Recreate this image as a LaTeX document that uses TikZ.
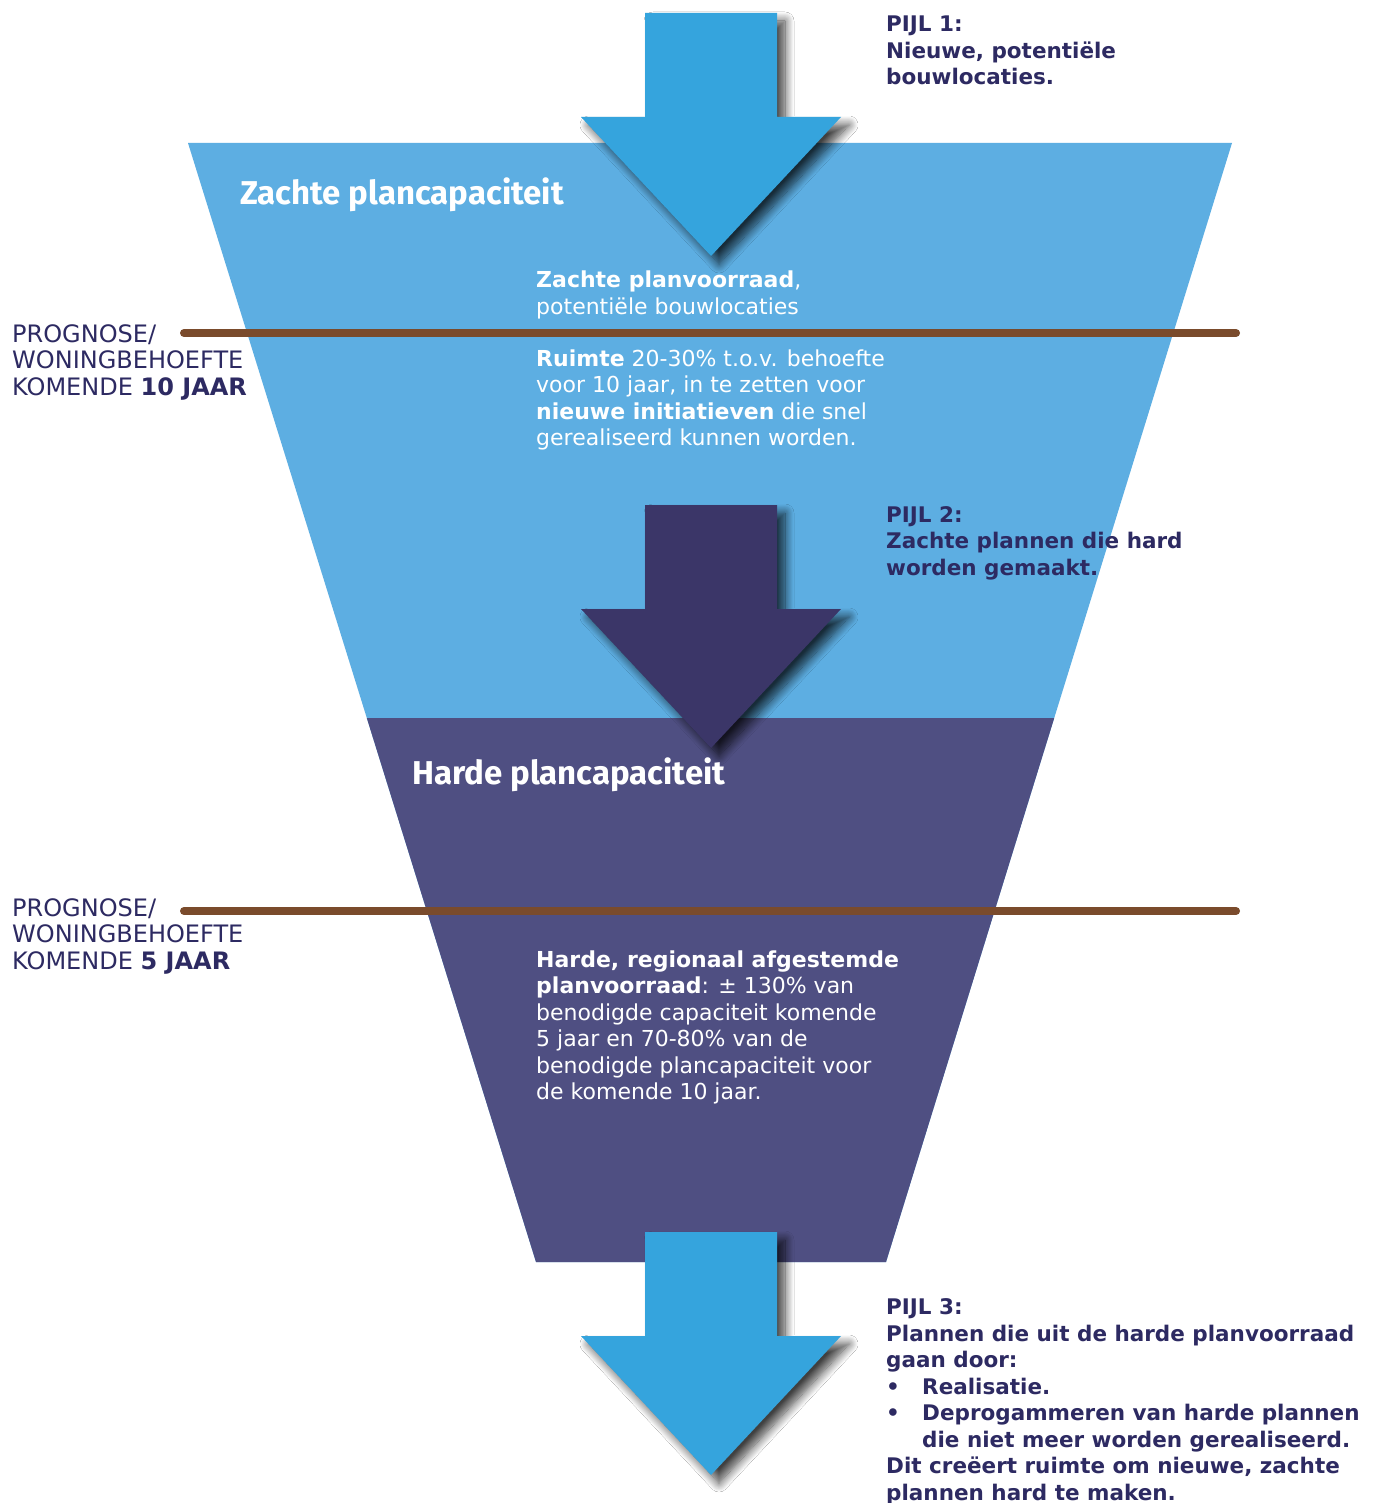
\documentclass[tikz,border=0pt]{standalone}
\usepackage{fontspec}
\setmainfont{DejaVu Sans}
\newfontfamily\kopfont{Fira Sans}
\usetikzlibrary{shadows.blur}

\definecolor{lichtblauw}{RGB}{93,174,226}
\definecolor{paars}{RGB}{79,79,130}
\definecolor{pijlblauw}{RGB}{53,164,221}
\definecolor{pijlpaars}{RGB}{59,54,104}
\definecolor{bruin}{RGB}{122,75,44}
\definecolor{donkerblauw}{RGB}{45,42,98}

\tikzset{
  pics/pijl/.style={code={
    \fill[#1, blur shadow={shadow xshift=8pt, shadow yshift=-8pt, shadow blur radius=9pt, shadow blur steps=12, shadow opacity=75}]
      (-66,0) -- (66,0) -- (66,104) -- (130,104) -- (0,243) -- (-130,104) -- (-66,104) -- cycle;
  }},
  kop/.style={font=\kopfont\bfseries\fontsize{33}{38}\selectfont, text=white, anchor=base west, inner sep=0pt},
  tekst/.style={font=\fontsize{22}{26.5}\selectfont, text=white, align=left, anchor=base west, inner sep=0pt},
  uitleg/.style={font=\bfseries\fontsize{21.5}{26.5}\selectfont, text=donkerblauw, align=left, anchor=base west, inner sep=0pt},
  prognose/.style={font=\fontsize{24}{26.5}\selectfont, text=donkerblauw, align=left, anchor=base west, inner sep=0pt},
  grens/.style={bruin, line width=8pt, line cap=round},
}

\begin{document}
\begin{tikzpicture}[x=1pt, y=-1pt]
    \fill[white] (0,0) rectangle (1376,1503);
    \useasboundingbox (0,0) rectangle (1376,1503);

    % trechter
    \coordinate (linksboven) at (188,143);
    \coordinate (rechtsboven) at (1232,143);
    \coordinate (rechtsonder) at (886,1262);
    \coordinate (linksonder) at (536,1262);
    \fill[lichtblauw] (linksboven) -- (rechtsboven) -- (rechtsonder) -- (linksonder) -- cycle;
    \begin{scope}
        \clip (linksboven) -- (rechtsboven) -- (rechtsonder) -- (linksonder) -- cycle;
        \fill[paars] (0,718) rectangle (1376,1503);
    \end{scope}

    % prognoselijnen
    \coordinate (tien links) at (184,333);
    \coordinate (tien rechts) at (1236,333);
    \coordinate (vijf links) at (184,911);
    \coordinate (vijf rechts) at (1236,911);
    \draw[grens] (tien links) -- (tien rechts);
    \draw[grens] (vijf links) -- (vijf rechts);

    % pijlen
    \pic (pijl1) at (711,13) {pijl=pijlblauw};
    \pic (pijl2) at (711,505) {pijl=pijlpaars};
    \pic (pijl3) at (711,1232) {pijl=pijlblauw};

    % teksten (base = laatste regel)
    \node[kop] (zacht) at (240,205) {Zachte plancapaciteit};
    \node[kop] (hard) at (412,784) {Harde plancapaciteit};

    \node[tekst] (zachtvoorraad) at (536,314.5) {\textbf{Zachte planvoorraad},\\potentiële bouwlocaties};
    \node[tekst] (ruimte) at (536,445.5) {\textbf{Ruimte} 20-30\% t.o.v. behoefte\\voor 10 jaar, in te zetten voor\\\textbf{nieuwe initiatieven} die snel\\gerealiseerd kunnen worden.};
    \node[tekst] (hardvoorraad) at (536,1099.5) {\textbf{Harde, regionaal afgestemde}\\\textbf{planvoorraad}: ± 130\% van\\benodigde capaciteit komende\\5 jaar en 70-80\% van de\\benodigde plancapaciteit voor\\de komende 10 jaar.};

    \node[prognose] (prognose10) at (12,395) {PROGNOSE/\\WONINGBEHOEFTE\\KOMENDE \textbf{10 JAAR}};
    \node[prognose] (prognose5) at (12,969) {PROGNOSE/\\WONINGBEHOEFTE\\KOMENDE \textbf{5 JAAR}};

    \node[uitleg] (uitleg1) at (886,85) {PIJL 1:\\Nieuwe, potentiële\\bouwlocaties.};
    \node[uitleg] (uitleg2) at (886,575) {PIJL 2:\\Zachte plannen die hard\\worden gemaakt.};
    \node[uitleg] (uitleg3) at (886,1500) {PIJL 3:\\Plannen die uit de harde planvoorraad\\gaan door:\\\makebox[36pt][l]{•}Realisatie.\\\makebox[36pt][l]{•}Deprogammeren van harde plannen\\\hspace*{36pt}die niet meer worden gerealiseerd.\\Dit creëert ruimte om nieuwe, zachte\\plannen hard te maken.};
\end{tikzpicture}
\end{document}
